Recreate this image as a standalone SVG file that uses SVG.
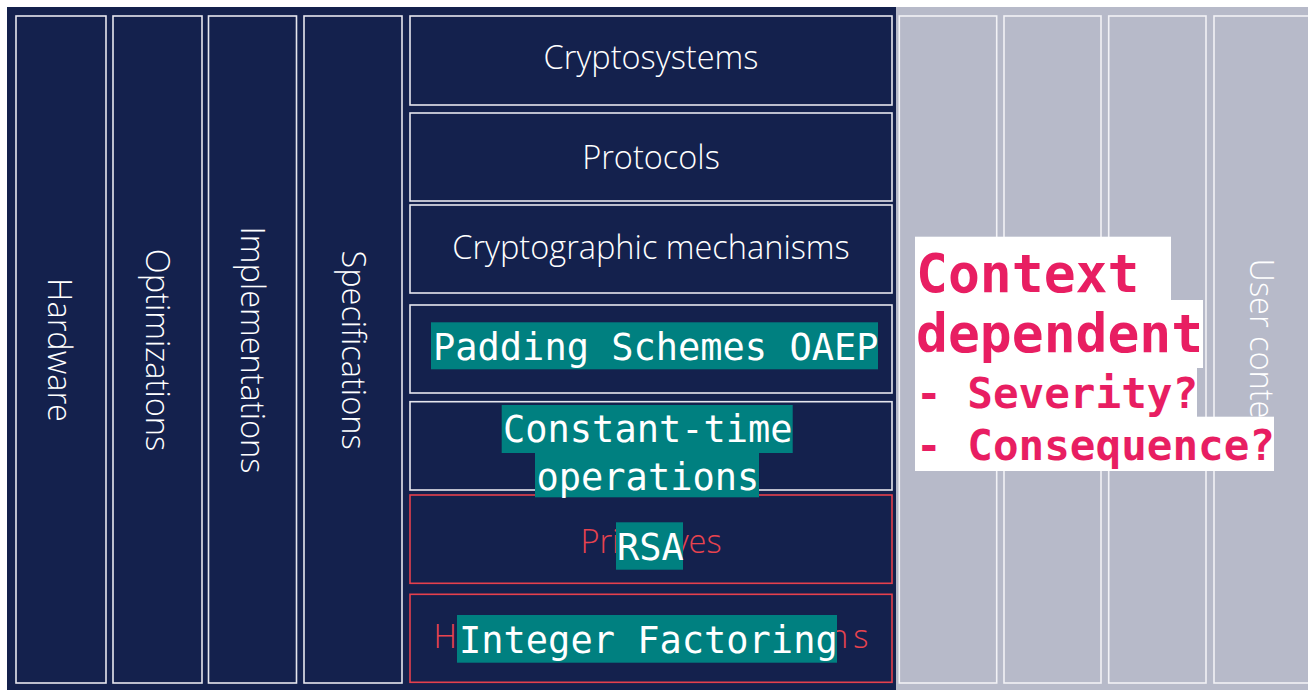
<svg xmlns="http://www.w3.org/2000/svg" width="1308" height="690" viewBox="0 0 1308 690">
<style>
.col{fill:#14214d;stroke:#e6e7ee;stroke-width:1.6}
.gcol{fill:#b7bac9;stroke:#f2f2f6;stroke-width:1.6}
.red{fill:#14214d;stroke:#e5404d;stroke-width:1.6}
.lbl{font-family:"Open Sans","Noto Sans",sans-serif;font-weight:300;font-size:32.5px;fill:#ffffff;text-anchor:middle}
.rlbl{fill:#e8434f}
.hl{fill:#008080}
.mono{font-family:"DejaVu Sans Mono","Liberation Mono",monospace;font-size:37px;fill:#ffffff}
.pbg{fill:#ffffff}
.pink{font-family:"DejaVu Sans Mono","Liberation Mono",monospace;font-weight:bold;fill:#e81e62}
</style>
<rect x="0" y="0" width="1308" height="690" fill="#ffffff"/>
<rect x="7" y="7" width="889" height="683" fill="#14214d"/>
<rect x="896" y="7" width="412" height="683" fill="#b7bac9"/>

<g id="hardware"><rect class="col" x="16" y="16" width="90" height="667"/><text class="lbl" transform="translate(48,350) rotate(90)">Hardware</text></g>
<g id="optimizations"><rect class="col" x="113" y="16" width="89" height="667"/><text class="lbl" transform="translate(146,350) rotate(90)">Optimizations</text></g>
<g id="implementations"><rect class="col" x="208.5" y="16" width="88" height="667"/><text class="lbl" transform="translate(241,350) rotate(90)">Implementations</text></g>
<g id="specifications"><rect class="col" x="304" y="16" width="98" height="667"/><text class="lbl" transform="translate(342,350) rotate(90)">Specifications</text></g>

<g id="cryptosystems"><rect class="col" x="410" y="16" width="482" height="89"/><text class="lbl" x="651" y="69">Cryptosystems</text></g>
<g id="protocols"><rect class="col" x="410" y="113" width="482" height="88"/><text class="lbl" x="651" y="169">Protocols</text></g>
<g id="mechanisms"><rect class="col" x="410" y="205" width="482" height="88"/><text class="lbl" x="651" y="259">Cryptographic mechanisms</text></g>
<g id="padding"><rect class="col" x="410" y="305" width="482" height="88"/><rect class="hl" x="431" y="322.3" width="447" height="47"/><text class="mono" x="433" y="359.5">Padding Schemes OAEP</text></g>
<g id="constant-time"><rect class="col" x="410" y="401.7" width="482" height="88.3"/></g>
<g id="primitives"><rect class="red" x="410" y="495" width="482" height="88.3"/><text class="lbl rlbl" x="651" y="552.5">Primitives</text><rect class="hl" x="616" y="522.3" width="67" height="47.4"/><text class="mono" x="617" y="559.5">RSA</text></g>
<g id="hard-problems"><rect class="red" x="410" y="594.3" width="482" height="88"/><text class="lbl rlbl" x="651" y="647.5" textLength="435" lengthAdjust="spacing">Hardness assumptions</text><rect class="hl" x="457" y="615" width="380" height="47.7"/><text class="mono" x="459" y="652.5">Integer Factoring</text></g>
<g id="constant-time-label"><rect class="hl" x="501.7" y="405" width="291" height="48"/><rect class="hl" x="535" y="452.7" width="224" height="44.6"/><text class="mono" x="503" y="442">Constant-time</text><text class="mono" x="536.5" y="489.5">operations</text></g>

<g id="grey1"><rect class="gcol" x="899.3" y="16" width="97.4" height="667"/></g>
<g id="grey2"><rect class="gcol" x="1004" y="16" width="97" height="667"/></g>
<g id="grey3"><rect class="gcol" x="1108.7" y="16" width="97.3" height="667"/></g>
<g id="user-context"><rect class="gcol" x="1214" y="16" width="110" height="667"/><text class="lbl" transform="translate(1250,352) rotate(90)">User context</text></g>

<g id="context-note">
<rect class="pbg" x="915" y="236.7" width="256" height="64"/>
<rect class="pbg" x="915" y="300" width="288" height="68"/>
<rect class="pbg" x="915" y="367.5" width="282" height="49.5"/>
<rect class="pbg" x="915" y="416.7" width="359" height="54.3"/>
<text class="pink" x="916" y="291.7" font-size="53">Context</text>
<text class="pink" x="916" y="352" font-size="53">dependent</text>
<text class="pink" x="916" y="408" font-size="42.6">- Severity?</text>
<text class="pink" x="916" y="460" font-size="42.6">- Consequence?</text>
</g>
<g id="connectors"></g>
</svg>
